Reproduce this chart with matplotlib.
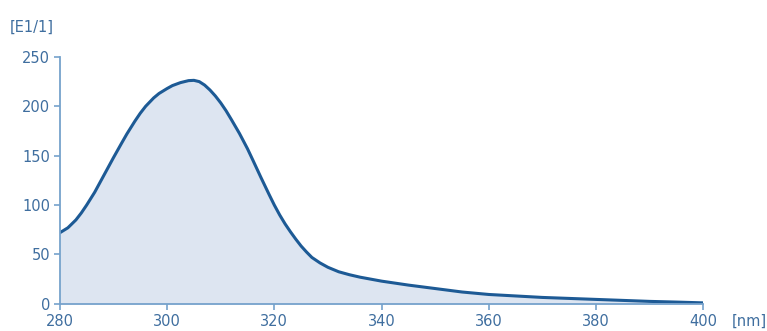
import matplotlib
matplotlib.use('Agg')
import matplotlib.pyplot as plt

# absorption spectrum
wavelength = [280, 281.5, 283, 284, 285, 286.5, 287.5, 289, 290, 291.5,
              292.5, 294, 295, 296, 297.5, 298.5, 300, 301, 302.5, 304,
              305, 306, 307, 308, 309, 310, 311, 312, 313.5, 315,
              316, 317.5, 319, 320, 321, 322, 323, 324, 325, 326,
              327, 328.5, 330, 332, 334, 336, 338, 340, 342.5, 345,
              350, 355, 360, 365, 370, 375, 380, 385, 390, 395, 400]
e11 = [72, 77, 85, 92, 100, 113, 123, 138, 148, 162.5,
       172, 185, 193, 200, 208.5, 213, 218, 221, 224, 226,
       226.3, 225, 221.5, 216.5, 210.5, 203.5, 195.5, 186.5, 172.5, 157,
       145.5, 128, 111, 100, 90, 81, 73, 65.5, 58.5, 52.5,
       47, 41.5, 37, 32.5, 29.5, 27, 25, 23, 21, 19,
       15.5, 12, 9.5, 8, 6.5, 5.5, 4.5, 3.5, 2.5, 1.8, 1]

x_ticks = [280, 300, 320, 340, 360, 380, 400]
y_ticks = [0, 50, 100, 150, 200, 250]

line_col = '#1d5a95'
fill_col = '#dde5f1'
axis_col = '#76a2cc'
text_col = '#3f6e9f'

plt.rcParams['font.family'] = ['DejaVu Sans']

fig = plt.figure(figsize=(7.67, 3.31), dpi=100)
ax = fig.add_axes([0.078, 0.082, 0.839, 0.746])

ax.fill_between(wavelength, e11, 0, color=fill_col, linewidth=0)
ax.plot(wavelength, e11, color=line_col, linewidth=2.2,
        solid_capstyle='round', solid_joinstyle='round')

ax.set_xlim(280, 400)
ax.set_ylim(0, 250)
ax.set_xticks(x_ticks)
ax.set_yticks(y_ticks)

for s in ['top', 'right']:
    ax.spines[s].set_visible(False)
for s in ['left', 'bottom']:
    ax.spines[s].set_color(axis_col)
    ax.spines[s].set_linewidth(1.3)

ax.tick_params(axis='both', colors=axis_col, length=4, width=1.2,
               labelcolor=text_col, labelsize=10.5)
ax.tick_params(axis='x', pad=3)
ax.tick_params(axis='y', pad=3)

fig.text(0.013, 0.918, '[E1/1]', color=text_col, fontsize=10.5, va='center')
fig.text(0.954, 0.03, '[nm]', color=text_col, fontsize=10.5, va='center')

fig.savefig('out.png', dpi=100)
